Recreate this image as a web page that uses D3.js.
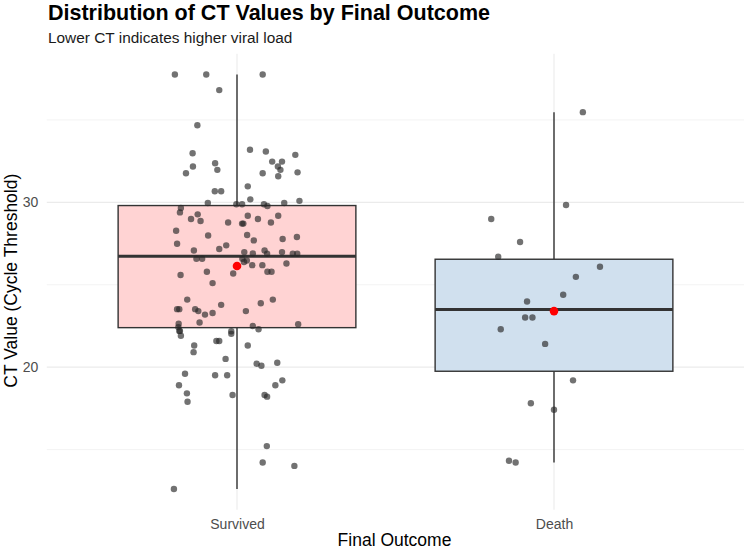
<!DOCTYPE html>
<html><head><meta charset="utf-8">
<script src="https://cdn.jsdelivr.net/npm/d3@7"></script>
<style>body{margin:0;background:#fff;} svg{display:block;font-family:"Liberation Sans",Arial,sans-serif;}</style>
</head><body><svg id="c" width="744" height="550"></svg>
<script>
const categories = ["Survived", "Death"];
const survivedCT = [37.76,37.76,37.76,36.81,34.68,32.98,33.19,33.08,32.88,32.47,32.47,32.17,32.37,31.97,31.76,31.76,32.17,31.97,31.58,31.82,30.97,30.67,30.67,30.18,30.09,29.96,29.96,29.88,29.88,29.88,29.78,29.66,29.39,29.27,28.99,28.87,29.19,28.99,29.19,28.78,28.78,28.71,28.71,28.28,27.99,28.02,27.69,27.49,27.39,27.17,27.78,27.90,27.08,26.98,26.90,27.08,26.88,26.98,26.88,26.88,26.58,26.58,26.58,26.47,26.38,26.19,26.19,26.29,25.79,25.68,25.79,25.79,25.59,25.10,24.10,24.10,23.88,23.78,23.52,23.52,23.52,23.40,23.19,23.29,23.40,22.63,22.71,22.61,22.50,22.30,22.43,22.20,22.20,21.91,22.18,22.02,21.59,21.59,21.31,21.31,20.91,20.50,20.21,20.09,20.27,19.60,19.51,19.51,18.90,19.20,18.90,18.41,17.90,18.31,18.31,18.21,15.21,14.22,14.01,12.61];
const survivedJitter = [-0.196,-0.097,0.081,-0.056,-0.125,-0.140,0.041,0.091,0.184,0.111,0.142,-0.139,-0.069,-0.062,-0.161,0.081,0.129,0.137,0.130,0.191,0.034,-0.070,-0.050,0.042,0.197,-0.092,0.149,-0.002,0.016,0.085,0.096,-0.177,-0.180,-0.124,-0.145,-0.115,0.034,0.066,0.130,0.107,-0.028,0.016,0.020,-0.192,-0.091,0.032,0.053,-0.189,-0.034,-0.056,0.144,0.189,-0.136,0.023,0.050,0.087,0.095,0.142,0.176,0.190,-0.128,-0.110,0.017,0.031,0.022,0.048,0.080,0.156,-0.095,-0.012,0.096,0.109,-0.178,-0.077,-0.157,0.113,0.075,-0.050,-0.189,-0.182,-0.132,-0.122,-0.101,-0.077,0.028,-0.184,-0.118,0.193,0.050,0.068,-0.185,-0.182,-0.180,-0.177,-0.018,-0.018,-0.065,-0.056,-0.135,0.034,-0.137,-0.036,0.062,0.077,0.127,-0.164,-0.069,-0.031,-0.183,0.143,0.121,-0.158,-0.156,-0.014,0.087,0.095,0.094,0.081,0.181,-0.199];
const deathCT = [35.47,29.84,28.99,27.59,26.70,26.09,25.48,24.39,23.98,23.01,23.01,22.30,21.41,19.20,17.81,17.42,14.32,14.22];
const deathJitter = [0.091,0.038,-0.198,-0.107,-0.176,0.145,0.069,0.029,-0.085,-0.091,-0.068,-0.168,-0.028,0.060,-0.073,0.000,-0.142,-0.121];
const boxFills = ["#FFD3D3", "#D0E0EE"];
const yMajorTicks = [20, 30];
const yMinorTicks = [15, 25, 35];

const groups = [
  {name: categories[0], values: survivedCT, jitter: survivedJitter, fill: boxFills[0]},
  {name: categories[1], values: deathCT, jitter: deathJitter, fill: boxFills[1]}
];

const svg = d3.select("#c");
const W = 744, H = 550;
const panel = {left: 46.8, right: 744.2, top: 53.7, bottom: 509.7};

const x = d3.scalePoint().domain(categories).range([panel.left, panel.right]).padding(0.6);
const step = x.step();
const allVals = survivedCT.concat(deathCT);
const ext = d3.extent(allVals);
const pad = (ext[1] - ext[0]) * 0.05;
const y = d3.scaleLinear().domain([ext[0] - pad, ext[1] + pad]).range([panel.bottom, panel.top]);

const g = svg.append("g");
// grid
g.selectAll(".ymin").data(yMinorTicks).join("line")
  .attr("x1", panel.left).attr("x2", W).attr("y1", d => y(d)).attr("y2", d => y(d))
  .attr("stroke", "#EBEBEB").attr("stroke-width", 0.6);
g.selectAll(".ymaj").data(yMajorTicks).join("line")
  .attr("x1", panel.left).attr("x2", W).attr("y1", d => y(d)).attr("y2", d => y(d))
  .attr("stroke", "#EBEBEB").attr("stroke-width", 1.1);
g.selectAll(".xmaj").data(categories).join("line")
  .attr("x1", d => x(d)).attr("x2", d => x(d)).attr("y1", panel.top).attr("y2", panel.bottom)
  .attr("stroke", "#EBEBEB").attr("stroke-width", 1.1);

// boxplots
const bw = step * 0.75;
groups.forEach(gr => {
  const s = gr.values.slice().sort(d3.ascending);
  const q1 = d3.quantile(s, 0.25), med = d3.quantile(s, 0.5), q3 = d3.quantile(s, 0.75);
  const iqr = q3 - q1;
  const lo = d3.min(s.filter(v => v >= q1 - 1.5 * iqr));
  const hi = d3.max(s.filter(v => v <= q3 + 1.5 * iqr));
  gr.stats = {q1, med, q3, lo, hi, mean: d3.mean(s)};
  const cx = x(gr.name);
  g.append("line").attr("x1", cx).attr("x2", cx).attr("y1", y(hi)).attr("y2", y(q3))
    .attr("stroke", "#333333").attr("stroke-width", 1.4);
  g.append("line").attr("x1", cx).attr("x2", cx).attr("y1", y(q1)).attr("y2", y(lo))
    .attr("stroke", "#333333").attr("stroke-width", 1.4);
  g.append("rect").attr("x", cx - bw / 2).attr("width", bw)
    .attr("y", y(q3)).attr("height", y(q1) - y(q3))
    .attr("fill", gr.fill).attr("stroke", "#333333").attr("stroke-width", 1.4);
  g.append("line").attr("x1", cx - bw / 2).attr("x2", cx + bw / 2).attr("y1", y(med)).attr("y2", y(med))
    .attr("stroke", "#333333").attr("stroke-width", 3);
});

// jitter points
groups.forEach(gr => {
  g.append("g").selectAll("circle").data(gr.values.map((v, i) => ({v, j: gr.jitter[i]}))).join("circle")
    .attr("cx", d => x(gr.name) + d.j * step)
    .attr("cy", d => y(d.v))
    .attr("r", 3.2)
    .attr("fill", "#262626").attr("fill-opacity", 0.65);
});
// mean points
groups.forEach(gr => {
  g.append("circle").attr("cx", x(gr.name)).attr("cy", y(gr.stats.mean)).attr("r", 4.3).attr("fill", "#FF0000");
});

// axes text
const yAxis = svg.append("g").attr("transform", `translate(${panel.left},0)`)
  .call(d3.axisLeft(y).tickValues(yMajorTicks).tickSize(0).tickPadding(8.5));
yAxis.select(".domain").remove();
yAxis.selectAll("text").attr("font-size", 14).attr("fill", "#4D4D4D").attr("font-family", "Liberation Sans, Arial, sans-serif");

const xAxis = svg.append("g").attr("transform", `translate(0,${panel.bottom})`)
  .call(d3.axisBottom(x).tickSize(0).tickPadding(9.2));
xAxis.select(".domain").remove();
xAxis.selectAll("text").attr("font-size", 14).attr("fill", "#4D4D4D").attr("font-family", "Liberation Sans, Arial, sans-serif");

svg.append("text").attr("x", (panel.left + panel.right) / 2 - 1).attr("y", 545.5)
  .attr("text-anchor", "middle").attr("font-size", 17.5).attr("fill", "#000").text("Final Outcome");
svg.append("text").attr("transform", `translate(16.5,${(panel.top + panel.bottom) / 2 - 1}) rotate(-90)`)
  .attr("text-anchor", "middle").attr("font-size", 17.5).attr("fill", "#000").text("CT Value (Cycle Threshold)");
svg.append("text").attr("x", 48).attr("y", 20).attr("font-size", 21.5).attr("font-weight", "bold").attr("fill", "#000")
  .text("Distribution of CT Values by Final Outcome");
svg.append("text").attr("x", 48).attr("y", 42.5).attr("font-size", 15.4).attr("fill", "#1a1a1a")
  .text("Lower CT indicates higher viral load");
</script></body></html>
